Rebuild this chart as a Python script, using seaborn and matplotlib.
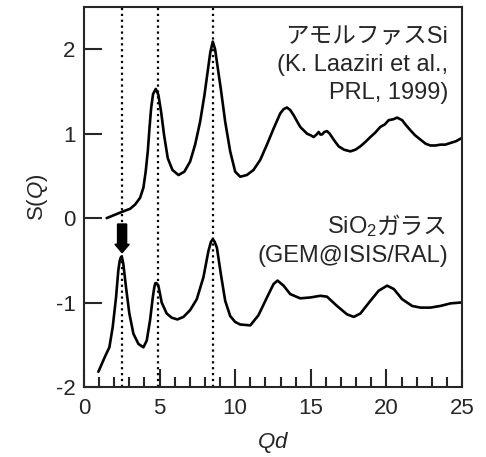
import matplotlib
matplotlib.use('Agg')
import matplotlib.pyplot as plt
from matplotlib.ticker import MultipleLocator
import pandas as pd
import seaborn as sns

# amorphous Si, S(Q) (shifted curve, upper)
asi_q = [1.50, 2.05, 2.60, 3.05, 3.38, 3.71, 3.93, 4.08, 4.22, 4.33, 4.44,
         4.57, 4.75, 4.92, 5.10, 5.30, 5.54, 5.85, 6.25, 6.64, 7.02, 7.35,
         7.68, 7.97, 8.19, 8.36, 8.52, 8.67, 8.79, 9.05, 9.34, 9.67, 10.0,
         10.33, 10.77, 11.21, 11.66, 12.1, 12.54, 12.98, 13.2, 13.42, 13.64,
         13.86, 14.3, 14.75, 15.0, 15.19, 15.38, 15.52, 15.63, 15.74, 15.9,
         16.07, 16.25, 16.51, 16.84, 17.2, 17.62, 17.95, 18.28, 18.6, 18.94,
         19.25, 19.6, 19.9, 20.15, 20.45, 20.71, 21.04, 21.3, 21.59, 21.9,
         22.25, 22.6, 22.91, 23.25, 23.58, 23.9, 24.24, 24.6, 24.9, 25.0]
asi_s = [0.0, 0.04, 0.08, 0.11, 0.16, 0.24, 0.36, 0.55, 0.79, 1.06, 1.30,
         1.47, 1.53, 1.46, 1.26, 0.98, 0.71, 0.57, 0.51, 0.55, 0.67, 0.87,
         1.14, 1.46, 1.75, 1.97, 2.09, 2.0, 1.85, 1.53, 1.14, 0.79, 0.55,
         0.49, 0.51, 0.57, 0.69, 0.87, 1.06, 1.24, 1.29, 1.31, 1.28,
         1.22, 1.08, 1.0, 0.98, 0.96, 0.99, 1.02, 0.99, 0.99, 1.02,
         1.03, 1.0, 0.93, 0.85, 0.81, 0.79, 0.81, 0.85, 0.90, 0.96,
         1.01, 1.08, 1.11, 1.16, 1.17, 1.19, 1.16, 1.10, 1.04, 0.98,
         0.93, 0.88, 0.86, 0.86, 0.87, 0.87, 0.89, 0.91, 0.94, 0.95]

# SiO2 glass, S(Q) (lower curve)
sio2_q = [0.95, 1.39, 1.68, 1.90, 2.12, 2.27, 2.37, 2.45, 2.52, 2.60, 2.78,
          3.0, 3.27, 3.6, 3.93, 4.15, 4.37, 4.55, 4.65, 4.72, 4.80, 4.92,
          5.14, 5.47, 5.81, 6.18, 6.58, 7.02, 7.46, 7.9, 8.23, 8.40, 8.52,
          8.64, 8.79, 9.05, 9.34, 9.67, 10.0, 10.33, 11.0, 11.54, 12.1,
          12.54, 12.8, 13.2, 13.64, 14.3, 14.97, 15.63, 16.07, 16.73, 17.4,
          17.84, 18.28, 18.94, 19.49, 20.05, 20.49, 21.04, 21.7, 22.25,
          22.91, 23.58, 24.24, 24.9, 25.0]
sio2_s = [-1.82, -1.64, -1.53, -1.29, -0.94, -0.62, -0.50, -0.46, -0.47,
          -0.54, -0.82, -1.13, -1.37, -1.49, -1.53, -1.45, -1.21, -0.94,
          -0.82, -0.77, -0.77, -0.80, -1.0, -1.13, -1.18, -1.20, -1.17,
          -1.09, -0.96, -0.70, -0.39, -0.28, -0.25, -0.28, -0.35, -0.66,
          -0.98, -1.16, -1.23, -1.26, -1.27, -1.15, -0.94, -0.78, -0.74,
          -0.80, -0.90, -0.95, -0.94, -0.92, -0.93, -1.04, -1.14, -1.17,
          -1.13, -0.98, -0.86, -0.80, -0.84, -0.96, -1.04, -1.06, -1.06,
          -1.04, -1.01, -1.0, -1.0]

peak_positions = [2.5, 4.9, 8.55]

asi_lines = ['アモルファスSi', '(K. Laaziri et al.,', 'PRL, 1999)']
sio2_lines = ['ガラス', '(GEM@ISIS/RAL)']

sns.set_style('ticks')
plt.rcParams['font.family'] = ['Liberation Sans', 'Noto Sans CJK JP', 'DejaVu Sans']
plt.rcParams['axes.unicode_minus'] = False
plt.rcParams['mathtext.fontset'] = 'custom'
plt.rcParams['mathtext.it'] = 'Liberation Sans:italic'
plt.rcParams['mathtext.rm'] = 'Liberation Sans'

df_asi = pd.DataFrame({'Q': asi_q, 'S': asi_s})
df_sio2 = pd.DataFrame({'Q': sio2_q, 'S': sio2_s})

fig = plt.figure(figsize=(4.86, 4.57), dpi=100)
ax = fig.add_axes([0.1728, 0.1532, 0.7778, 0.8315])

for q in peak_positions:
    ax.axvline(q, color='k', linestyle=':', linewidth=1.6, zorder=1)

sns.lineplot(data=df_asi, x='Q', y='S', color='k', linewidth=1.9, ax=ax)
sns.lineplot(data=df_sio2, x='Q', y='S', color='k', linewidth=1.9, ax=ax)

# arrow marking the first sharp diffraction peak
ax.arrow(2.52, -0.07, 0, -0.34, width=0.6, head_width=0.95, head_length=0.1,
         length_includes_head=True, color='k', zorder=3)

ax.set_xlim(0, 25)
ax.set_ylim(-2, 2.5)
ax.xaxis.set_major_locator(MultipleLocator(5))
ax.xaxis.set_minor_locator(MultipleLocator(1))
ax.yaxis.set_major_locator(MultipleLocator(1))
ax.tick_params(axis='both', which='major', direction='in', length=13, width=1.5,
               labelsize=16, pad=6)
ax.tick_params(axis='x', which='major', pad=8)
ax.tick_params(axis='x', which='minor', direction='in', length=7, width=1.5)
for s in ax.spines.values():
    s.set_linewidth(1.5)

ax.set_xlabel(r'$Qd$', fontsize=16, labelpad=8)
ax.set_ylabel(r'S($Q$)', fontsize=16, labelpad=4)

# labels, one line at a time (baselines in axes fraction)
tx = 0.963
for line, yb in zip(asi_lines, [0.904, 0.832, 0.759]):
    ax.text(tx, yb, line, transform=ax.transAxes, ha='right', va='baseline',
            fontsize=17)

t = ax.text(tx, 0.404, sio2_lines[0], transform=ax.transAxes, ha='right',
            va='baseline', fontsize=17)
ax.annotate('SiO$_2$', xy=(0, 0.404), xycoords=(t, 'axes fraction'),
            ha='right', va='baseline', fontsize=17)
ax.text(tx, 0.330, sio2_lines[1], transform=ax.transAxes, ha='right',
        va='baseline', fontsize=17)

fig.savefig('out.png', dpi=100)
